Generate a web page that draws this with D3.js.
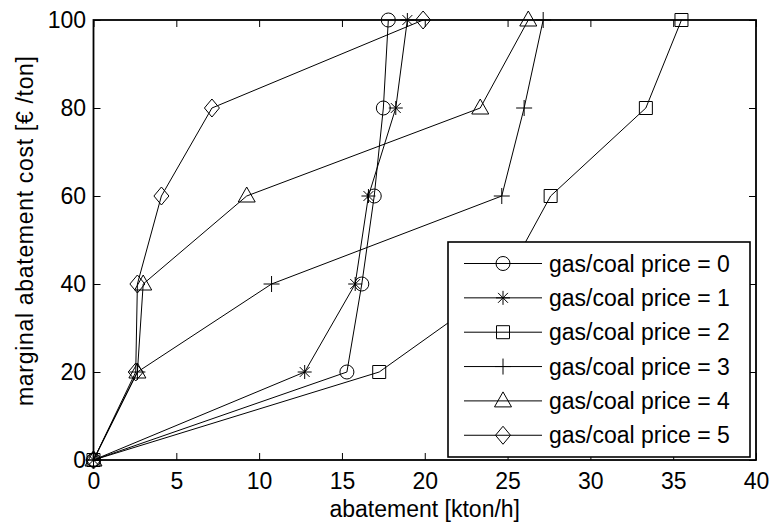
<!DOCTYPE html>
<html>
<head>
<meta charset="utf-8">
<script src="https://cdn.jsdelivr.net/npm/d3@7"></script>
<style>
  html, body { margin: 0; padding: 0; background: #fff; }
  svg { display: block; font-family: "Liberation Sans", Arial, Helvetica, sans-serif; }
</style>
</head>
<body>
<svg id="chart" width="771" height="523"></svg>
<script>
// Marginal abatement cost levels (y) shared by every curve
const costLevels = [0, 20, 40, 60, 80, 100];

// Abatement [kton/h] reached at each cost level, per gas/coal price ratio
const abatePrice0 = [0, 15.3, 16.2, 16.95, 17.5, 17.8];
const abatePrice1 = [0, 12.75, 15.8, 16.6, 18.25, 18.95];
const abatePrice2 = [0, 17.25, 24.7, 27.6, 33.35, 35.5];
const abatePrice3 = [0, 2.65, 10.75, 24.65, 26.0, 27.15];
const abatePrice4 = [0, 2.65, 3.0, 9.25, 23.35, 26.25];
const abatePrice5 = [0, 2.55, 2.65, 4.1, 7.15, 19.9];

const seriesNames = [
  "gas/coal price = 0", "gas/coal price = 1", "gas/coal price = 2",
  "gas/coal price = 3", "gas/coal price = 4", "gas/coal price = 5"
];
const seriesMarkers = ["circle", "asterisk", "square", "plus", "triangle", "diamond"];

const xTicks = [0, 5, 10, 15, 20, 25, 30, 35, 40];
const yTicks = [0, 20, 40, 60, 80, 100];

const xLabel = "abatement [kton/h]";
const yLabel = "marginal abatement cost [€ /ton]";

const series = [abatePrice0, abatePrice1, abatePrice2, abatePrice3, abatePrice4, abatePrice5]
  .map((xs, i) => ({
    name: seriesNames[i],
    marker: seriesMarkers[i],
    points: xs.map((v, j) => ({ x: v, y: costLevels[j] }))
  }));

const svg = d3.select("#chart");
const frame = { left: 93.5, right: 756, top: 20, bottom: 460 };

const x = d3.scaleLinear().domain([0, 40]).range([frame.left, frame.right]);
const y = d3.scaleLinear().domain([0, 100]).range([frame.bottom, frame.top]);

// Open marker outlines, centred on the origin
function markerPath(kind) {
  const p = d3.path();
  switch (kind) {
    case "circle":
      p.moveTo(7, 0); p.arc(0, 0, 7, 0, 2 * Math.PI); break;
    case "square":
      p.rect(-6.5, -6.5, 13, 13); break;
    case "triangle":
      p.moveTo(0, -9); p.lineTo(8.5, 6); p.lineTo(-8.5, 6); p.closePath(); break;
    case "diamond":
      p.moveTo(0, -9); p.lineTo(7.5, 0); p.lineTo(0, 9); p.lineTo(-7.5, 0); p.closePath(); break;
    case "plus":
      p.moveTo(-8, 0); p.lineTo(8, 0); p.moveTo(0, -8); p.lineTo(0, 8); break;
    case "asterisk": {
      const r = 7, d = r * Math.SQRT1_2;
      p.moveTo(-r, 0); p.lineTo(r, 0);
      p.moveTo(0, -r); p.lineTo(0, r);
      p.moveTo(-d, -d); p.lineTo(d, d);
      p.moveTo(-d, d); p.lineTo(d, -d);
      break;
    }
  }
  return p.toString();
}

// Curves and markers
const line = d3.line().x(d => x(d.x)).y(d => y(d.y));
const plot = svg.append("g");
series.forEach(s => {
  plot.append("path")
    .attr("d", line(s.points))
    .attr("fill", "none").attr("stroke", "#000").attr("stroke-width", 1);
  plot.selectAll(null).data(s.points).enter().append("path")
    .attr("d", markerPath(s.marker))
    .attr("transform", d => `translate(${x(d.x)},${y(d.y)})`)
    .attr("fill", "none").attr("stroke", "#000").attr("stroke-width", 1);
});

// Axes: ticks point inward on all four sides
const fontSize = 23;
function styleAxis(g) {
  g.select(".domain").remove();
  g.selectAll(".tick line").attr("stroke", "#000").attr("stroke-width", 1);
  g.selectAll(".tick text").attr("fill", "#000").style("font-size", fontSize + "px")
    .style("font-family", "'Liberation Sans', Arial, Helvetica, sans-serif");
}
svg.append("g").attr("transform", `translate(0,${frame.bottom})`)
  .call(d3.axisBottom(x).tickValues(xTicks).tickSize(-7).tickPadding(13).tickFormat(d3.format("d")))
  .call(styleAxis);
svg.append("g").attr("transform", `translate(0,${frame.top})`)
  .call(d3.axisTop(x).tickValues(xTicks).tickSize(-7).tickFormat(""))
  .call(styleAxis);
svg.append("g").attr("transform", `translate(${frame.left},0)`)
  .call(d3.axisLeft(y).tickValues(yTicks).tickSize(-7).tickPadding(7.5).tickFormat(d3.format("d")))
  .call(styleAxis);
svg.append("g").attr("transform", `translate(${frame.right},0)`)
  .call(d3.axisRight(y).tickValues(yTicks).tickSize(-7).tickFormat(""))
  .call(styleAxis);

svg.append("rect")
  .attr("x", frame.left).attr("y", frame.top)
  .attr("width", frame.right - frame.left).attr("height", frame.bottom - frame.top)
  .attr("fill", "none").attr("stroke", "#000").attr("stroke-width", 1.8);

// Axis titles
svg.append("text")
  .attr("x", (frame.left + frame.right) / 2).attr("y", 517)
  .attr("text-anchor", "middle").style("font-size", fontSize + "px")
  .text(xLabel);
svg.append("text")
  .attr("transform", "translate(33,231) rotate(-90)")
  .attr("text-anchor", "middle").style("font-size", fontSize + "px")
  .attr("textLength", 350).attr("lengthAdjust", "spacing")
  .text(yLabel);

// Legend
const lg = { x: 448, y: 242, w: 302, h: 215 };
const legend = svg.append("g");
legend.append("rect")
  .attr("x", lg.x).attr("y", lg.y).attr("width", lg.w).attr("height", lg.h)
  .attr("fill", "#fff").attr("stroke", "#000").attr("stroke-width", 1.6);
series.forEach((s, i) => {
  const cy = 263.5 + i * 34.35;
  legend.append("line")
    .attr("x1", 464).attr("x2", 542).attr("y1", cy).attr("y2", cy)
    .attr("stroke", "#000").attr("stroke-width", 1);
  legend.append("path")
    .attr("d", markerPath(s.marker))
    .attr("transform", `translate(503,${cy})`)
    .attr("fill", "none").attr("stroke", "#000").attr("stroke-width", 1);
  legend.append("text")
    .attr("x", 549).attr("y", cy).attr("dy", "0.35em")
    .style("font-size", fontSize + "px")
    .text(s.name);
});
</script>
</body>
</html>
